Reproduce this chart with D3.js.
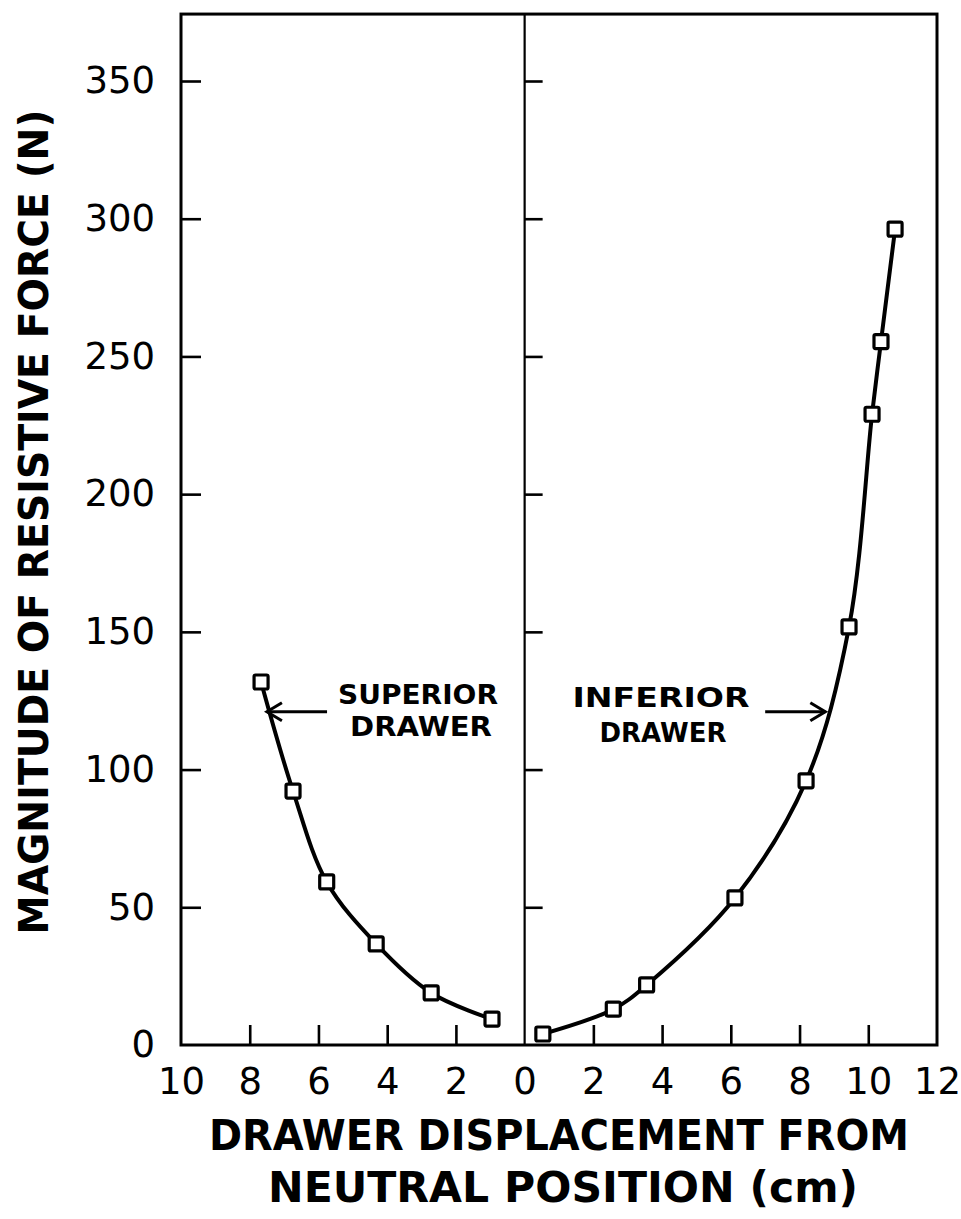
<!DOCTYPE html>
<html>
<head>
<meta charset="utf-8">
<script src="https://cdn.jsdelivr.net/npm/d3@7"></script>
<style>
body { margin: 0; background: #fff; }
text { font-family: "DejaVu Sans", sans-serif; fill: #000; }
</style>
</head>
<body>
<script>
// superior drawer, displacement measured to the left of 0
var supDisp  = [7.67, 6.74, 5.76, 4.32, 2.72, 0.95];
var supForce = [131.8, 92.2, 59.2, 36.7, 18.9, 9.4];
// inferior drawer, displacement to the right of 0
var infDisp  = [0.53, 2.58, 3.55, 6.12, 8.19, 9.44, 10.11, 10.37, 10.78];
var infForce = [4.0, 13.0, 21.8, 53.4, 95.9, 151.8, 229, 255.4, 296.2];

var yTicks = [0, 50, 100, 150, 200, 250, 300, 350];
var xTicks = [-10, -8, -6, -4, -2, 0, 2, 4, 6, 8, 10, 12];

var width = 961, height = 1219;

var svg = d3.select("body").append("svg")
    .attr("width", width)
    .attr("height", height);

var x = d3.scaleLinear().domain([-10, 12]).range([181, 937]);
var y = d3.scaleLinear().domain([0, 350]).range([1045, 81]);
var yTop = 374.3;

// frame
svg.append("rect")
    .attr("x", x(-10)).attr("y", y(yTop))
    .attr("width", x(12) - x(-10)).attr("height", y(0) - y(yTop))
    .attr("fill", "none").attr("stroke", "#000").attr("stroke-width", 3);

// center line at zero displacement
svg.append("line")
    .attr("x1", x(0)).attr("x2", x(0))
    .attr("y1", y(yTop)).attr("y2", y(0))
    .attr("stroke", "#000").attr("stroke-width", 2.2);

// left axis, inward ticks
var yAxis = svg.append("g")
    .attr("transform", "translate(" + x(-10) + ",0)")
    .call(d3.axisLeft(y).tickValues(yTicks).tickSizeInner(-20).tickSizeOuter(0).tickPadding(26));

// ticks on the zero line
var zAxis = svg.append("g")
    .attr("transform", "translate(" + x(0) + ",0)")
    .call(d3.axisLeft(y).tickValues(yTicks.slice(1)).tickSizeInner(-18).tickSizeOuter(0).tickFormat(""));

// bottom axis
var xAxis = svg.append("g")
    .attr("transform", "translate(0," + y(0) + ")")
    .call(d3.axisBottom(x).tickValues(xTicks).tickSizeInner(-20).tickSizeOuter(0).tickPadding(23)
        .tickFormat(function(d) { return Math.abs(d); }));

[yAxis, zAxis, xAxis].forEach(function(g) {
    g.select(".domain").remove();
    g.selectAll(".tick line").attr("stroke", "#000").attr("stroke-width", 2.6);
    g.selectAll(".tick text")
        .attr("font-family", "DejaVu Sans")
        .attr("font-size", 37)
        .attr("fill", "#000");
});
// no tick marks drawn on the frame corners / zero line
xAxis.selectAll(".tick").filter(function(d) { return d === -10 || d === 0 || d === 12; })
    .select("line").remove();
yAxis.selectAll(".tick").filter(function(d) { return d === 0; }).select("line").remove();

var line = d3.line()
    .x(function(d) { return x(d[0]); })
    .y(function(d) { return y(d[1]); })
    .curve(d3.curveCatmullRom.alpha(0.5));

var supPts = supDisp.map(function(d, i) { return [-d, supForce[i]]; });
var infPts = infDisp.map(function(d, i) { return [d, infForce[i]]; });

[supPts, infPts].forEach(function(pts) {
    svg.append("path")
        .attr("d", line(pts))
        .attr("fill", "none")
        .attr("stroke", "#000")
        .attr("stroke-width", 4);

    svg.append("g").selectAll("rect")
        .data(pts)
        .enter().append("rect")
        .attr("x", function(d) { return x(d[0]) - 7; })
        .attr("y", function(d) { return y(d[1]) - 7; })
        .attr("width", 14).attr("height", 14)
        .attr("rx", 1.5)
        .attr("fill", "#fff")
        .attr("stroke", "#000")
        .attr("stroke-width", 3.2);
});

// annotations
function arrow(x1, x2, yy) {
    var dir = x2 > x1 ? 1 : -1;
    var g = svg.append("g").attr("stroke", "#000").attr("stroke-width", 3).attr("fill", "none");
    g.append("line").attr("x1", x1).attr("x2", x2).attr("y1", yy).attr("y2", yy);
    g.append("path").attr("d",
        "M" + (x2 - dir * 15) + "," + (yy - 9) + "L" + x2 + "," + yy + "L" + (x2 - dir * 15) + "," + (yy + 9));
}
arrow(x(-5.75), x(-7.5), y(121));
arrow(x(7.0), x(8.75), y(121));

function label(cx, base, txt, len) {
    svg.append("text")
        .attr("x", cx).attr("y", base)
        .attr("text-anchor", "middle")
        .attr("font-size", 27)
        .attr("font-weight", "bold")
        .attr("textLength", len)
        .attr("lengthAdjust", "spacingAndGlyphs")
        .text(txt);
}
label(418, 704, "SUPERIOR", 160);
label(421, 736, "DRAWER", 142);
label(661, 707, "INFERIOR", 177);
label(663, 742, "DRAWER", 127);

// axis titles
svg.append("text")
    .attr("transform", "translate(48,522) rotate(-90)")
    .attr("text-anchor", "middle")
    .attr("font-size", 40)
    .attr("font-weight", "bold")
    .attr("textLength", 825)
    .attr("lengthAdjust", "spacingAndGlyphs")
    .text("MAGNITUDE OF RESISTIVE FORCE (N)");

svg.append("text")
    .attr("x", 559).attr("y", 1150)
    .attr("text-anchor", "middle")
    .attr("font-size", 42)
    .attr("font-weight", "bold")
    .attr("textLength", 700)
    .attr("lengthAdjust", "spacingAndGlyphs")
    .text("DRAWER DISPLACEMENT FROM");

svg.append("text")
    .attr("x", 563).attr("y", 1202)
    .attr("text-anchor", "middle")
    .attr("font-size", 42)
    .attr("font-weight", "bold")
    .attr("textLength", 590)
    .attr("lengthAdjust", "spacingAndGlyphs")
    .text("NEUTRAL POSITION (cm)");
</script>
</body>
</html>
